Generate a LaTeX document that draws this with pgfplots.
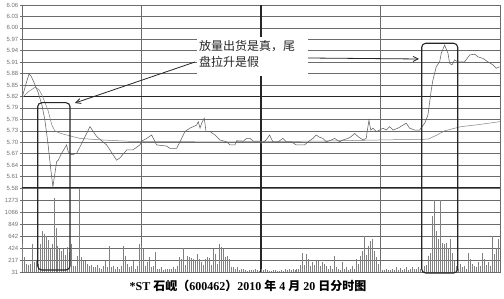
\documentclass[border=0pt]{standalone}
\usepackage{fontspec}
\setmainfont{Liberation Serif}
\newfontfamily\cjk{Noto Sans CJK SC}
\newfontfamily\labfont{Liberation Sans}
\usepackage{pgfplots}
\pgfplotsset{compat=1.18}
\usetikzlibrary{arrows.meta}
\definecolor{gridc}{gray}{0.42}
\definecolor{linec}{gray}{0.38}
\definecolor{avgc}{gray}{0.5}
\definecolor{volc}{gray}{0.5}
\begin{document}
\begin{tikzpicture}
\path[use as bounding box, fill=white] (0pt,0pt) rectangle (504pt,299pt);
\pgfplotsset{
  common/.style={
    scale only axis, width=478pt, xmin=0, xmax=240,
    xtick={60,120,180}, xticklabels={}, xtick style={draw=none},
    ytick pos=left, tick align=outside, major tick length=2pt,
    tick style={gridc, line width=0.5pt},
    grid=major, major grid style={gridc, line width=0.5pt},
    axis line style={gridc, line width=0.6pt},
    yticklabel style={font=\labfont\fontsize{6}{6}\selectfont, text=black!55, inner sep=1.5pt},
  }
}
\begin{axis}[common, at={(22pt,111pt)}, anchor=south west, height=183pt,
  ymin=5.58, ymax=6.06,
  ytick={5.58,5.61,5.64,5.67,5.70,5.73,5.76,5.79,5.82,5.85,5.88,5.91,5.94,5.97,6.00,6.03,6.06},
  yticklabels={5.58,5.61,5.64,5.67,5.70,5.73,5.76,5.79,5.82,5.85,5.88,5.91,5.94,5.97,6.00,6.03,6.06}]
\draw[line width=1.4pt, black!85] (axis cs:0,5.82) -- (axis cs:240,5.82);
\draw[line width=1.4pt, black!85] (axis cs:0,5.58) -- (axis cs:240,5.58);
\draw[line width=1.1pt, black!85] (axis cs:120,5.58) -- (axis cs:120,6.06);
\addplot[avgc, line width=0.5pt, mark=none] coordinates {
(0,5.816) (3,5.832) (6.5,5.844) (8.5,5.838) (10,5.824) (13,5.785) (15,5.745) (16.5,5.730) (19,5.724) (22.4,5.719) (29.1,5.710) (40,5.706) (55.9,5.702) (100,5.701) (150,5.703) (180,5.706) (203.8,5.708) (208,5.718) (212.2,5.730) (220.5,5.741) (228.9,5.746) (240,5.754)};
\addplot[linec, line width=0.55pt, mark=none] coordinates {
(0,5.816) (2,5.853) (3.5,5.879) (4.5,5.874) (5.5,5.863) (8,5.832) (10,5.798) (11.5,5.758) (13,5.698) (14.5,5.627) (15.5,5.583) (17.4,5.649) (18.2,5.653) (19.9,5.671) (22.4,5.693) (23.2,5.675) (25,5.667) (27.5,5.671) (30,5.697) (33.3,5.732) (34.1,5.741) (37.5,5.715) (42.5,5.693) (47.5,5.653) (49.2,5.659) (52.6,5.680) (55.7,5.680) (59.2,5.693) (60.1,5.703) (62.6,5.710) (65.1,5.719) (67.6,5.693) (72.6,5.690) (74.3,5.684) (77.7,5.684) (79.3,5.701) (81.8,5.728) (84.3,5.737) (86,5.741) (87.7,5.745) (88.5,5.754) (89.4,5.737) (90.2,5.750) (91.5,5.763) (92.4,5.728) (94.4,5.728) (96.9,5.719) (99.4,5.706) (102.8,5.701) (104.4,5.693) (106.9,5.693) (107.8,5.704) (111.1,5.703) (112.8,5.710) (114.5,5.710) (116.1,5.703) (119.5,5.703) (120.1,5.697) (122.6,5.706) (124.3,5.719) (126,5.701) (128.5,5.701) (131,5.710) (132.7,5.701) (135.2,5.701) (137.7,5.693) (141.9,5.693) (143.6,5.701) (146.1,5.710) (147.7,5.719) (149.4,5.713) (151.1,5.710) (152.8,5.701) (155.3,5.706) (157,5.710) (159.5,5.701) (161.1,5.706) (163.7,5.710) (165.3,5.715) (167,5.723) (168.7,5.715) (171.2,5.706) (172.8,5.710) (174.2,5.758) (175.1,5.732) (176.2,5.737) (177.9,5.728) (179.6,5.732) (181.2,5.737) (182.9,5.732) (184.6,5.741) (186.3,5.732) (188.8,5.737) (191.3,5.745) (192.9,5.750) (194.6,5.737) (197.1,5.732) (199.6,5.732) (202.2,5.750) (203.8,5.771) (205.5,5.837) (206.3,5.863) (208,5.898) (209.7,5.911) (210.5,5.933) (212.2,5.955) (213.9,5.933) (214.7,5.907) (215.9,5.903) (217.2,5.916) (218.9,5.911) (222.2,5.911) (224.8,5.929) (227.3,5.931) (228.9,5.924) (231.4,5.920) (233.9,5.911) (236.5,5.903) (238.1,5.894) (239.8,5.898)};
\end{axis}
\begin{axis}[common, at={(22pt,27pt)}, anchor=south west, height=84pt,
  ymin=0, ymax=1485,
  ytick={0,212.14,424.29,636.43,848.57,1060.71,1272.86},
  yticklabels={31,217,424,642,849,1066,1273}]
\draw[line width=1.1pt, black!85] (axis cs:120,0) -- (axis cs:120,1485);
\addplot[ycomb, volc, line width=0.7pt, mark=none] coordinates {
(0,500) (1,257) (2,140) (3,120) (4,150) (5,489) (6,175) (7,190) (8,140) (9,489)
(10,721) (11,680) (12,634) (13,560) (14,402) (15,489) (16,1300) (17,781) (18,460) (19,402)
(20,380) (21,402) (22,300) (23,437) (24,350) (25,489) (26,110) (27,110) (28,285) (29,1460)
(30,262) (31,200) (32,192) (33,150) (34,110) (35,130) (36,90) (37,80) (38,120) (39,70)
(40,60) (41,110) (42,192) (43,80) (44,460) (45,90) (46,100) (47,60) (48,80) (49,60)
(50,110) (51,460) (52,285) (53,150) (54,80) (55,100) (56,192) (57,60) (58,100) (59,489)
(60,454) (61,400) (62,100) (63,175) (64,262) (65,80) (66,100) (67,355) (68,60) (69,50)
(70,80) (71,40) (72,60) (73,50) (74,60) (75,50) (76,80) (77,60) (78,110) (79,257)
(80,227) (81,431) (82,120) (83,285) (84,257) (85,245) (86,227) (87,200) (88,314) (89,227)
(90,169) (91,120) (92,227) (93,257) (94,245) (95,120) (96,402) (97,314) (98,150) (99,489)
(100,437) (101,402) (102,257) (103,285) (104,227) (105,80) (106,81) (107,50) (108,81) (109,40)
(110,50) (111,52) (112,40) (113,23) (114,30) (115,40) (116,30) (117,52) (118,40) (119,23)
(120,60) (121,40) (122,50) (123,30) (124,20) (125,23) (126,30) (127,40) (128,23) (129,20)
(130,30) (131,20) (132,52) (133,40) (134,60) (135,30) (136,52) (137,40) (138,60) (139,50)
(140,120) (141,344) (142,120) (143,314) (144,227) (145,100) (146,169) (147,120) (148,198) (149,198)
(150,100) (151,169) (152,140) (153,100) (154,60) (155,110) (156,60) (157,285) (158,81) (159,50)
(160,40) (161,169) (162,60) (163,81) (164,40) (165,50) (166,110) (167,60) (168,227) (169,140)
(170,285) (171,372) (172,634) (173,300) (174,460) (175,547) (176,577) (177,372) (178,257) (179,140)
(180,110) (181,40) (182,30) (183,50) (184,30) (185,40) (186,60) (187,30) (188,80) (189,40)
(190,70) (191,30) (192,60) (193,80) (194,40) (195,60) (196,80) (197,50) (198,60) (199,80)
(200,60) (201,40) (202,100) (203,120) (204,285) (205,344) (206,983) (207,1275) (208,721) (209,577)
(210,1275) (211,518) (212,489) (213,518) (214,431) (215,577) (216,344) (217,198) (218,110) (219,60)
(220,140) (221,80) (222,110) (223,60) (224,344) (225,227) (226,140) (227,100) (228,80) (229,169)
(230,100) (231,344) (232,227) (233,120) (234,169) (235,100) (236,634) (237,314) (238,431) (239,577)
(240,200)};
\end{axis}
% annotation boxes
\draw[line width=1.1pt, black!85, rounded corners=4pt] (37.7pt,29pt) rectangle (70pt,196.3pt);
\draw[line width=1.1pt, black!85, rounded corners=4pt] (421.7pt,26pt) rectangle (457.7pt,255.7pt);
\fill[white] (197pt,223pt) rectangle (308pt,262pt);
\node[anchor=west, inner sep=0pt, font=\cjk\fontsize{12}{12}\selectfont, text=black!85] at (199pt,253pt) {放量出货是真，尾};
\node[anchor=west, inner sep=0pt, font=\cjk\fontsize{12}{12}\selectfont, text=black!85] at (199pt,237pt) {盘拉升是假};
\draw[line width=0.8pt, black!85, -{Straight Barb[length=5pt,width=5pt]}] (195pt,237pt) -- (75pt,196pt);
\draw[line width=0.8pt, black!85, -{Straight Barb[length=5pt,width=5pt]}] (308pt,241pt) -- (419pt,240pt);
\node[font=\bfseries\fontsize{12}{14}\selectfont] at (248pt,13pt) {*ST {\cjk 石岘（}600462{\cjk ）}2010 {\cjk 年} 4 {\cjk 月} 20 {\cjk 日分时图}};
\end{tikzpicture}
\end{document}
